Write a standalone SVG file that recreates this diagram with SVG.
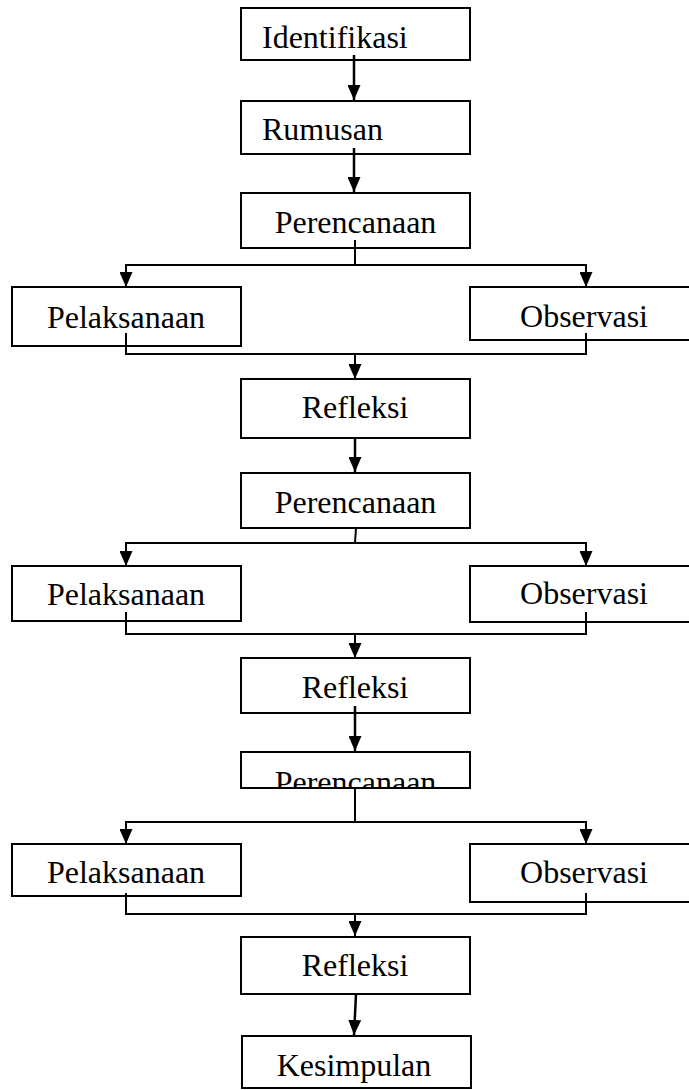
<svg xmlns="http://www.w3.org/2000/svg" width="689" height="1090" viewBox="0 0 689 1090">
<style>
.box{fill:#fff;stroke:#000;stroke-width:2}
.t{font-family:"Liberation Serif","Times New Roman",serif;font-size:32px;fill:#000}
.c{text-anchor:middle}
.ln{fill:none;stroke:#000;stroke-width:2}
.main{fill:none;stroke:#000;stroke-width:2.5}
</style>
<defs>
<marker id="ah" markerUnits="userSpaceOnUse" viewBox="0 0 15 13" refX="15" refY="6.5" markerWidth="15" markerHeight="13" orient="auto">
<path d="M0,0 L15,6.5 L0,13 Z" fill="#000"/>
</marker>
<clipPath id="clipP3"><rect x="241" y="752" width="229" height="36"/></clipPath>
</defs>
<rect width="689" height="1090" fill="#fff"/>
<g id="n-identifikasi"><rect class="box" x="241" y="8" width="229" height="52"/><text class="t" x="262" y="48">Identifikasi</text></g>
<g id="n-rumusan"><rect class="box" x="241" y="101" width="229" height="53"/><text class="t" x="262" y="140">Rumusan</text></g>
<g id="n-perencanaan1"><rect class="box" x="241" y="193" width="229" height="55"/><text class="t c" x="355.5" y="233">Perencanaan</text></g>
<g id="n-pelaksanaan1"><rect class="box" x="12" y="287" width="229" height="59"/><text class="t c" x="126" y="328">Pelaksanaan</text></g>
<g id="n-observasi1"><rect class="box" x="470" y="287" width="230" height="53"/><text class="t c" x="584" y="327">Observasi</text></g>
<g id="n-refleksi1"><rect class="box" x="241" y="379" width="229" height="59"/><text class="t c" x="355" y="418">Refleksi</text></g>
<g id="n-perencanaan2"><rect class="box" x="241" y="473" width="229" height="55"/><text class="t c" x="355.5" y="513">Perencanaan</text></g>
<g id="n-pelaksanaan2"><rect class="box" x="12" y="566" width="229" height="55"/><text class="t c" x="126" y="605">Pelaksanaan</text></g>
<g id="n-observasi2"><rect class="box" x="470" y="566" width="230" height="56"/><text class="t c" x="584" y="604">Observasi</text></g>
<g id="n-refleksi2"><rect class="box" x="241" y="658" width="229" height="55"/><text class="t c" x="355" y="698">Refleksi</text></g>
<g id="n-perencanaan3"><rect class="box" x="241" y="752" width="229" height="36"/><text class="t c" x="355.5" y="793" clip-path="url(#clipP3)">Perencanaan</text></g>
<g id="n-pelaksanaan3"><rect class="box" x="12" y="844" width="229" height="52"/><text class="t c" x="126" y="883">Pelaksanaan</text></g>
<g id="n-observasi3"><rect class="box" x="470" y="844" width="230" height="58"/><text class="t c" x="584" y="883">Observasi</text></g>
<g id="n-refleksi3"><rect class="box" x="241" y="937" width="229" height="57"/><text class="t c" x="355" y="976">Refleksi</text></g>
<g id="n-kesimpulan"><rect class="box" x="242" y="1036" width="229" height="52"/><text class="t c" x="354" y="1076">Kesimpulan</text></g>
<g id="connectors">
<path class="main" d="M354,55 L354,100" marker-end="url(#ah)"/>
<path class="main" d="M354,148 L354,192" marker-end="url(#ah)"/>
<path class="ln" d="M355,240 L355,265"/>
<path class="ln" d="M126,265 L586,265"/>
<path class="ln" d="M126,264 L126,287" marker-end="url(#ah)"/>
<path class="ln" d="M586,264 L586,287" marker-end="url(#ah)"/>
<path class="ln" d="M126,333 L126,354 L586,354 L586,333"/>
<path class="ln" d="M355,354 L355,379" marker-end="url(#ah)"/>
<path class="main" d="M355,438 L355,472" marker-end="url(#ah)"/>
<path class="ln" d="M356,528 L355,543"/>
<path class="ln" d="M126,543 L586,543"/>
<path class="ln" d="M126,542 L126,566" marker-end="url(#ah)"/>
<path class="ln" d="M586,542 L586,566" marker-end="url(#ah)"/>
<path class="ln" d="M126,612 L126,634 L586,634 L586,612"/>
<path class="ln" d="M355,634 L355,658" marker-end="url(#ah)"/>
<path class="main" d="M355,706 L355,751" marker-end="url(#ah)"/>
<path class="ln" d="M355,788 L355,822"/>
<path class="ln" d="M126,822 L586,822"/>
<path class="ln" d="M126,821 L126,844" marker-end="url(#ah)"/>
<path class="ln" d="M586,821 L586,844" marker-end="url(#ah)"/>
<path class="ln" d="M126,893 L126,914 L586,914 L586,893"/>
<path class="ln" d="M355,914 L355,936" marker-end="url(#ah)"/>
<path class="main" d="M356,994 L354,1035" marker-end="url(#ah)"/>
</g>
</svg>
